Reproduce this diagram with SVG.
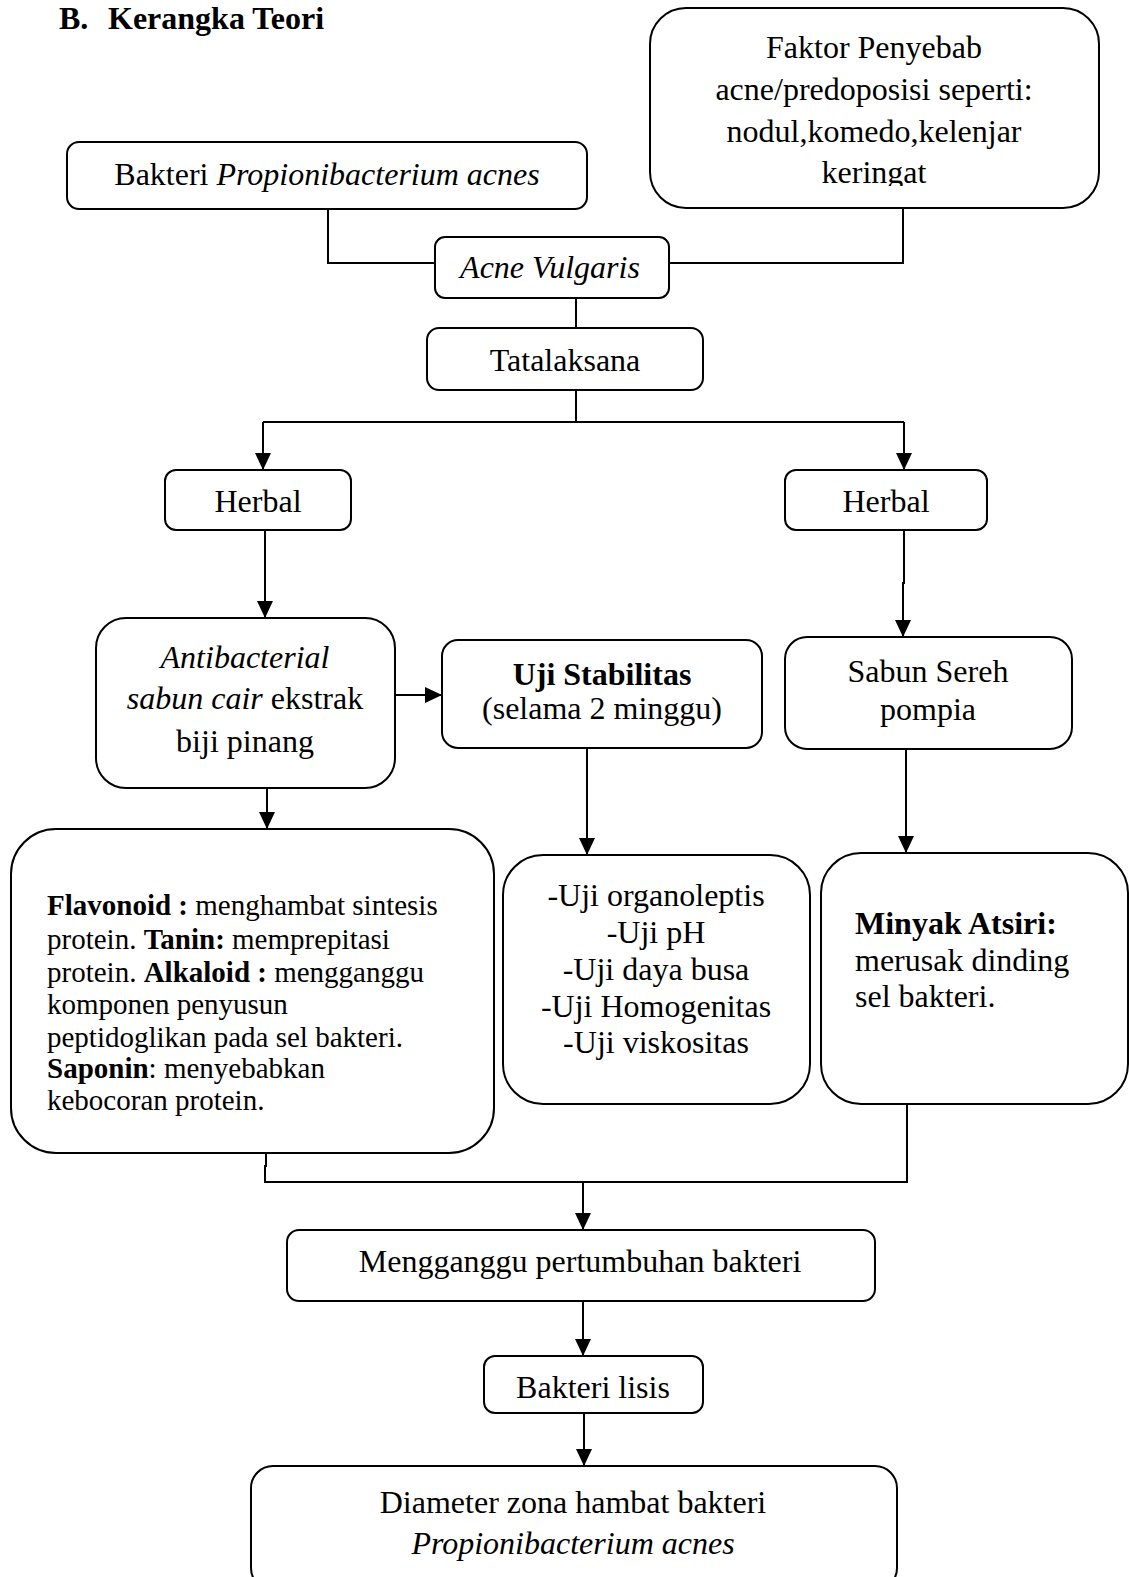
<svg xmlns="http://www.w3.org/2000/svg" width="1129" height="1577" viewBox="0 0 1129 1577">
<style>
  .box { fill: #fff; stroke: #000; stroke-width: 2; }
  .t { font-family: "Liberation Serif", "Times New Roman", serif; font-size: 32px; fill: #000; }
  .c { text-anchor: middle; }
  .s { font-size: 29px; }
  .b { font-weight: bold; }
  .i { font-style: italic; }
  .ln { fill: none; stroke: #000; stroke-width: 2; }
</style>
<defs>
  <marker id="arr" markerUnits="userSpaceOnUse" markerWidth="18" markerHeight="18" refX="17" refY="8" orient="auto">
    <path d="M0,0 L17,8 L0,16 z" fill="#000"/>
  </marker>
  <clipPath id="clipF"><rect x="650" y="8" width="449" height="178"/></clipPath>
</defs>
<rect width="1129" height="1577" fill="#fff"/>

<g id="title">
  <text class="t b" x="59" y="29">B.</text>
  <text class="t b" x="108" y="29">Kerangka Teori</text>
</g>

<g id="connectors">
  <path class="ln" d="M328,209 V263 H435"/>
  <path class="ln" d="M903,208 V263 H669"/>
  <path class="ln" d="M576,297 V328"/>
  <path class="ln" d="M576,390 V422"/>
  <path class="ln" d="M263,422 H904"/>
  <path class="ln" d="M263,422 V470" marker-end="url(#arr)"/>
  <path class="ln" d="M904,422 V470" marker-end="url(#arr)"/>
  <path class="ln" d="M265,530 V618" marker-end="url(#arr)"/>
  <path class="ln" d="M395,695 H442" marker-end="url(#arr)"/>
  <path class="ln" d="M267,788 V829" marker-end="url(#arr)"/>
  <path class="ln" d="M587,748 V855" marker-end="url(#arr)"/>
  <path class="ln" d="M904,530 V583 H903 V637" marker-end="url(#arr)"/>
  <path class="ln" d="M906,749 V853" marker-end="url(#arr)"/>
  <path class="ln" d="M266,1153 V1166 H265 V1182 H907 V1104"/>
  <path class="ln" d="M583,1182 V1230" marker-end="url(#arr)"/>
  <path class="ln" d="M583,1301 V1356" marker-end="url(#arr)"/>
  <path class="ln" d="M584,1413 V1466" marker-end="url(#arr)"/>
</g>

<g id="bakteri">
  <rect class="box" x="67" y="142" width="520" height="67" rx="12"/>
  <text class="t c" x="327" y="185">Bakteri <tspan class="i">Propionibacterium acnes</tspan></text>
</g>

<g id="faktor">
  <rect class="box" x="650" y="8" width="449" height="200" rx="36"/>
  <g clip-path="url(#clipF)">
    <text class="t c" x="874" y="58">Faktor Penyebab</text>
    <text class="t c" x="874" y="100">acne/predoposisi seperti:</text>
    <text class="t c" x="874" y="142">nodul,komedo,kelenjar</text>
    <text class="t c" x="874" y="183">keringat</text>
  </g>
</g>

<g id="acne">
  <rect class="box" x="435" y="237" width="234" height="61" rx="10"/>
  <text class="t c i" x="550" y="278">Acne Vulgaris</text>
</g>

<g id="tatalaksana">
  <rect class="box" x="427" y="328" width="276" height="62" rx="12"/>
  <text class="t c" x="565" y="371">Tatalaksana</text>
</g>

<g id="herbal1">
  <rect class="box" x="165" y="470" width="186" height="60" rx="11"/>
  <text class="t c" x="258" y="512">Herbal</text>
</g>

<g id="herbal2">
  <rect class="box" x="785" y="470" width="202" height="60" rx="11"/>
  <text class="t c" x="886" y="512">Herbal</text>
</g>

<g id="antibacterial">
  <rect class="box" x="96" y="618" width="299" height="170" rx="30"/>
  <text class="t c i" x="245" y="668">Antibacterial</text>
  <text class="t c" x="245" y="709"><tspan class="i">sabun cair</tspan> ekstrak</text>
  <text class="t c" x="245" y="752">biji pinang</text>
</g>

<g id="ujistabilitas">
  <rect class="box" x="442" y="640" width="320" height="108" rx="16"/>
  <text class="t c b" x="602" y="685">Uji Stabilitas</text>
  <text class="t c" x="602" y="719">(selama 2 minggu)</text>
</g>

<g id="sabunsereh">
  <rect class="box" x="785" y="637" width="287" height="112" rx="22"/>
  <text class="t c" x="928" y="682">Sabun Sereh</text>
  <text class="t c" x="928" y="720">pompia</text>
</g>

<g id="flavonoid">
  <rect class="box" x="11" y="829" width="483" height="324" rx="45"/>
  <text class="t s" x="47" y="915"><tspan class="b">Flavonoid :</tspan> menghambat sintesis</text>
  <text class="t s" x="47" y="949">protein. <tspan class="b">Tanin:</tspan> memprepitasi</text>
  <text class="t s" x="47" y="982">protein. <tspan class="b">Alkaloid :</tspan> mengganggu</text>
  <text class="t s" x="47" y="1014">komponen penyusun</text>
  <text class="t s" x="47" y="1047">peptidoglikan pada sel bakteri.</text>
  <text class="t s" x="47" y="1078"><tspan class="b">Saponin</tspan>: menyebabkan</text>
  <text class="t s" x="47" y="1110">kebocoran protein.</text>
</g>

<g id="ujilist">
  <rect class="box" x="503" y="855" width="307" height="249" rx="40"/>
  <text class="t c" x="656" y="906">-Uji organoleptis</text>
  <text class="t c" x="656" y="943">-Uji pH</text>
  <text class="t c" x="656" y="980">-Uji daya busa</text>
  <text class="t c" x="656" y="1017">-Uji Homogenitas</text>
  <text class="t c" x="656" y="1053">-Uji viskositas</text>
</g>

<g id="minyak">
  <rect class="box" x="821" y="853" width="307" height="251" rx="40"/>
  <text class="t b" x="855" y="934">Minyak Atsiri:</text>
  <text class="t" x="855" y="971">merusak dinding</text>
  <text class="t" x="855" y="1007">sel bakteri.</text>
</g>

<g id="mengganggu">
  <rect class="box" x="287" y="1230" width="588" height="71" rx="12"/>
  <text class="t c" x="580" y="1272">Mengganggu pertumbuhan bakteri</text>
</g>

<g id="lisis">
  <rect class="box" x="484" y="1356" width="219" height="57" rx="11"/>
  <text class="t c" x="593" y="1398">Bakteri lisis</text>
</g>

<g id="diameter">
  <rect class="box" x="251" y="1466" width="646" height="124" rx="22"/>
  <text class="t c" x="573" y="1513">Diameter zona hambat bakteri</text>
  <text class="t c i" x="573" y="1554">Propionibacterium acnes</text>
</g>
</svg>
